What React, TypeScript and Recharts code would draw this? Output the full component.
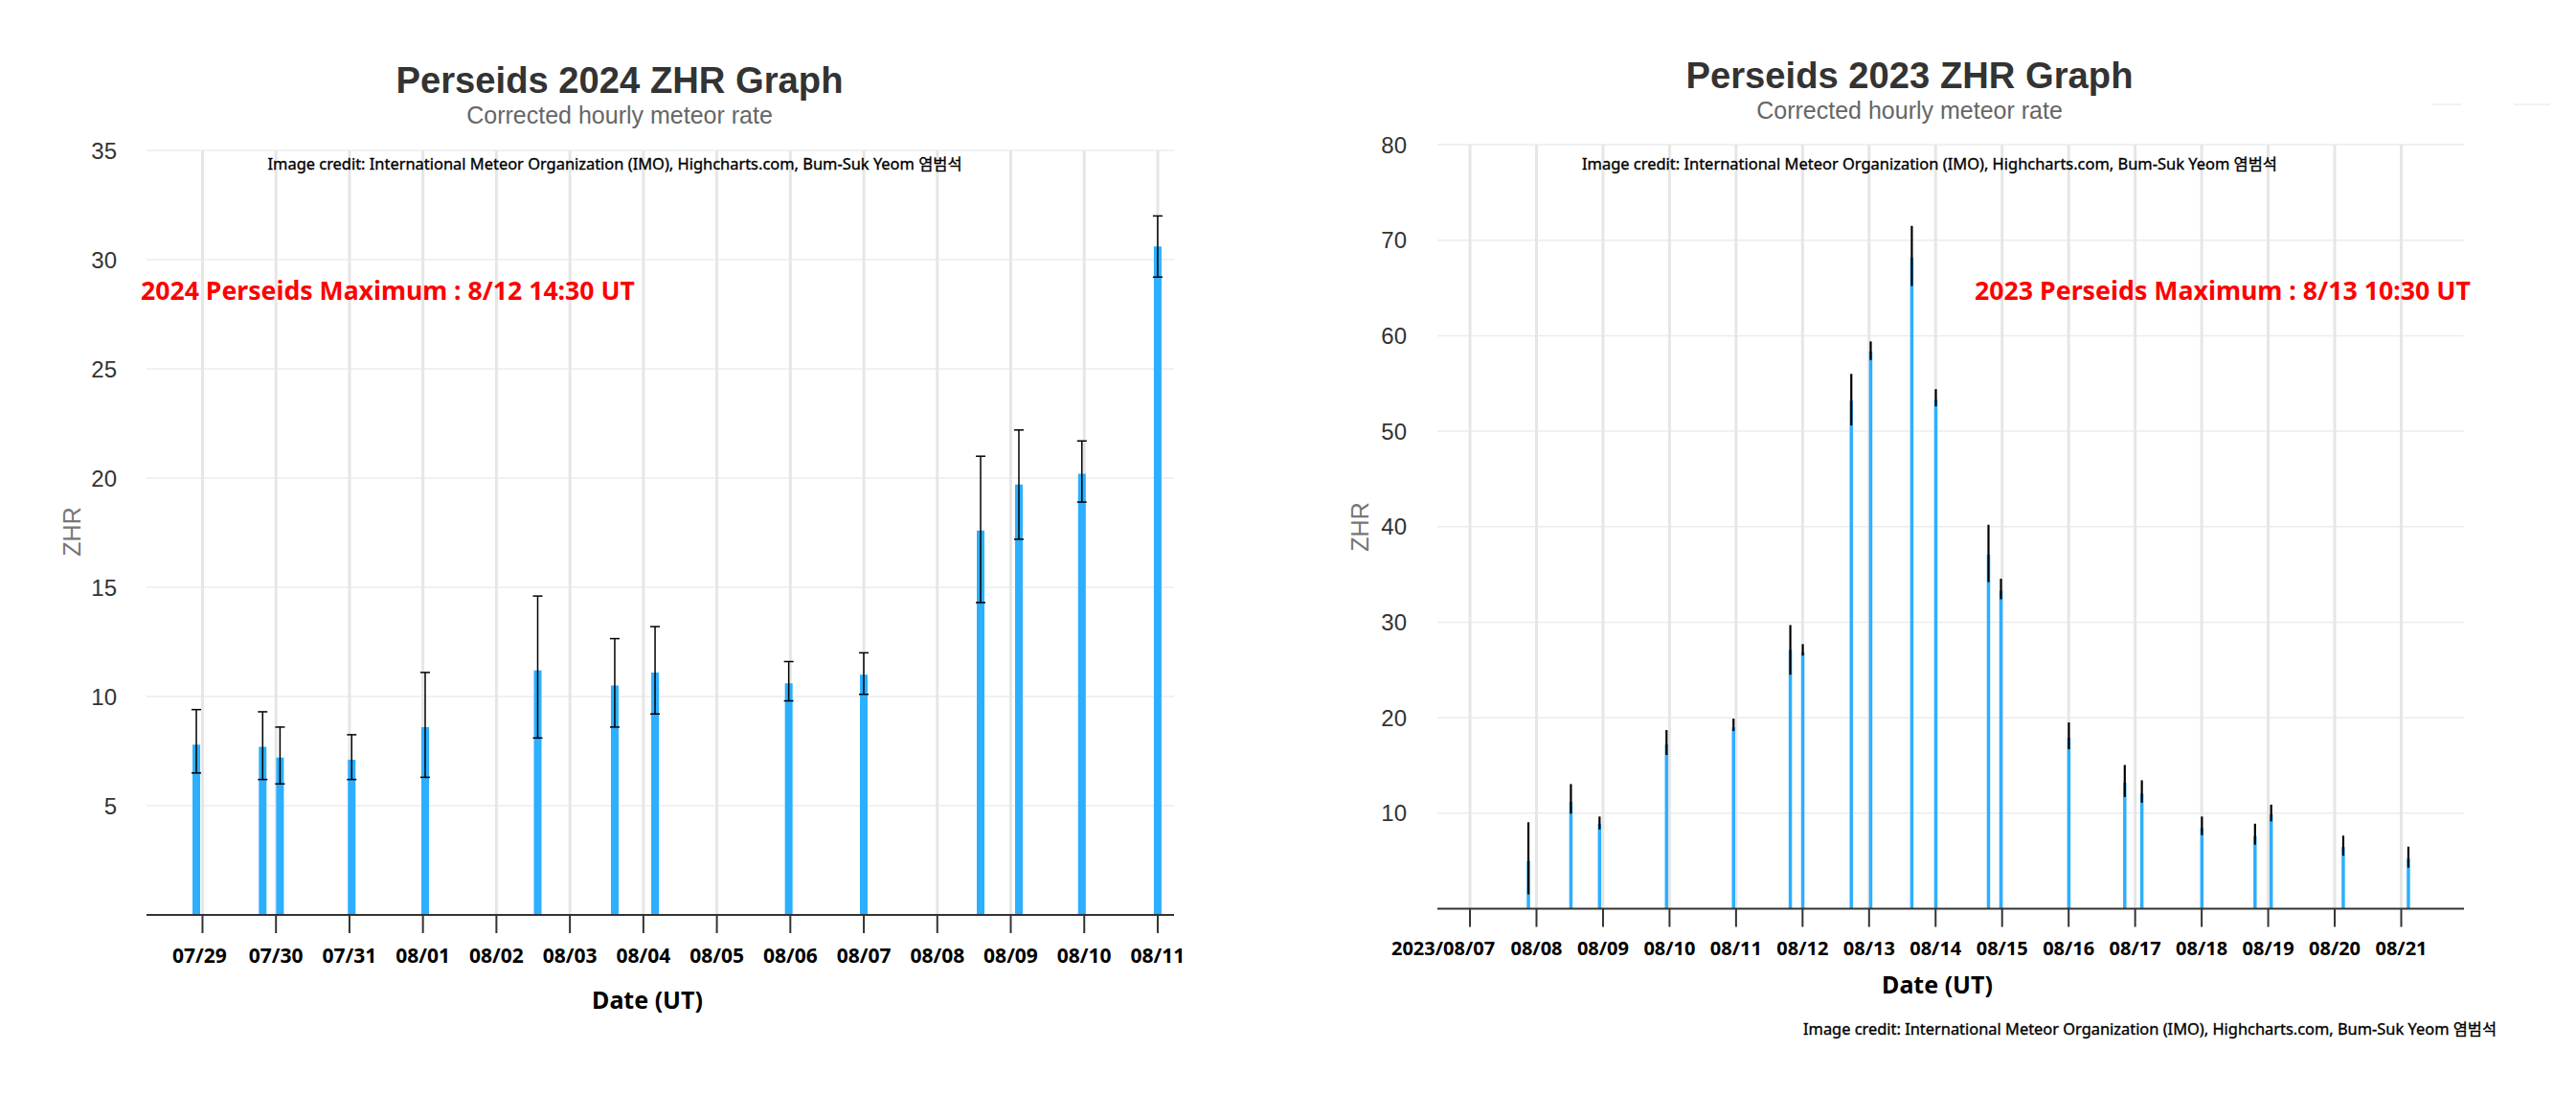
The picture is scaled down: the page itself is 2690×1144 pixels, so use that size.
import React from "react"
import { Bar, ComposedChart, XAxis, YAxis, CartesianGrid, ErrorBar } from "recharts"

const DAY = 86400000
const toMs = (s: string) => Date.parse(s + ":00Z")

// Perseids 2024 (UT), ZHR with lower / upper error bounds
const times2024 = [
  "2024-07-28T22:00", "2024-07-29T19:40", "2024-07-30T01:20", "2024-07-31T00:45",
  "2024-08-01T00:45", "2024-08-02T13:30", "2024-08-03T14:40", "2024-08-04T03:50",
  "2024-08-05T23:30", "2024-08-07T00:00", "2024-08-08T14:10", "2024-08-09T02:40",
  "2024-08-09T23:15", "2024-08-11T00:00",
]
const zhr2024 = [7.8, 7.7, 7.2, 7.1, 8.6, 11.2, 10.5, 11.1, 10.6, 11.0, 17.6, 19.7, 20.2, 30.6]
const low2024 = [6.5, 6.2, 6.0, 6.2, 6.3, 8.1, 8.6, 9.2, 9.8, 10.1, 14.3, 17.2, 18.9, 29.2]
const high2024 = [9.4, 9.3, 8.6, 8.25, 11.1, 14.6, 12.65, 13.2, 11.6, 12.0, 21.0, 22.2, 21.7, 32.0]
const days2024 = [
  "2024-07-29", "2024-07-30", "2024-07-31", "2024-08-01", "2024-08-02", "2024-08-03", "2024-08-04",
  "2024-08-05", "2024-08-06", "2024-08-07", "2024-08-08", "2024-08-09", "2024-08-10", "2024-08-11",
]
const yTicks2024 = [5, 10, 15, 20, 25, 30, 35]

// Perseids 2023 (UT)
const times2023 = [
  "2023-08-07T21:00", "2023-08-08T12:20", "2023-08-08T22:40", "2023-08-09T22:50",
  "2023-08-10T23:00", "2023-08-11T19:30", "2023-08-12T00:00", "2023-08-12T17:30",
  "2023-08-13T00:30", "2023-08-13T15:20", "2023-08-14T00:00", "2023-08-14T19:00",
  "2023-08-14T23:30", "2023-08-16T00:00", "2023-08-16T20:10", "2023-08-17T02:20",
  "2023-08-18T00:00", "2023-08-18T19:10", "2023-08-19T01:00", "2023-08-20T03:00",
  "2023-08-21T02:30",
]
const zhr2023 = [5.0, 11.2, 8.9, 17.2, 19.0, 27.1, 26.85, 53.2, 58.35, 68.2, 53.3, 37.1, 33.3, 17.9, 13.2, 12.05, 8.45, 7.6, 9.9, 6.45, 5.25]
const low2023 = [1.5, 9.95, 8.3, 16.1, 18.6, 24.5, 26.5, 50.6, 57.45, 65.2, 52.6, 34.2, 32.4, 16.7, 11.7, 11.1, 7.7, 6.7, 9.15, 5.55, 4.3]
const high2023 = [9.05, 13.05, 9.65, 18.7, 19.9, 29.7, 27.7, 56.0, 59.4, 71.5, 54.4, 40.2, 34.55, 19.5, 15.05, 13.45, 9.65, 8.9, 10.9, 7.65, 6.5]
const days2023 = [
  "2023-08-07", "2023-08-08", "2023-08-09", "2023-08-10", "2023-08-11", "2023-08-12", "2023-08-13", "2023-08-14",
  "2023-08-15", "2023-08-16", "2023-08-17", "2023-08-18", "2023-08-19", "2023-08-20", "2023-08-21",
]
const yTicks2023 = [10, 20, 30, 40, 50, 60, 70, 80]

const makeTable = (times: string[], zhr: number[], low: number[], high: number[]) =>
  times.map((s, i) => ({ x: toMs(s), zhr: zhr[i], err: [zhr[i] - low[i], high[i] - zhr[i]] }))

const table2024 = makeTable(times2024, zhr2024, low2024, high2024)
const table2023 = makeTable(times2023, zhr2023, low2023, high2023)
const ticks2024 = days2024.map((d) => toMs(d + "T00:00"))
const ticks2023 = days2023.map((d) => toMs(d + "T00:00"))
const xDom2024 = [ticks2024[0] - 0.762 * DAY, ticks2024[13] + 0.222 * DAY]
const xDom2023 = [ticks2023[0] - 0.49 * DAY, ticks2023[14] + 0.943 * DAY]

const mmdd = (v: number) => {
  const d = new Date(v)
  const m = String(d.getUTCMonth() + 1).padStart(2, "0")
  const dd = String(d.getUTCDate()).padStart(2, "0")
  return `${m}/${dd}`
}

const KO = "'Noto Sans', 'Noto Sans CJK KR', sans-serif"
const AR = "'Liberation Sans', Arial, sans-serif"
const BLUE = "#2caffe"

// grid lines only on the tick values (none on the plot edges)
const dayLines = (ticks: number[], dom: number[]) => (p: any) => {
  const o = p.offset
  return ticks.map((t) => o.left + ((t - dom[0]) / (dom[1] - dom[0])) * o.width)
}
const valueLines = (ticks: number[], max: number) => (p: any) => {
  const o = p.offset
  return ticks.map((v) => o.top + o.height - (v / max) * o.height)
}

function DateTick(props: any) {
  const { x, y, payload, index, size, firstShift, firstYear } = props
  const label = index === 0 && firstYear ? `${new Date(payload.value).getUTCFullYear()}/${mmdd(payload.value)}` : mmdd(payload.value)
  return (
    <text x={x + (index === 0 ? firstShift : 0)} y={y} dy="0.71em" textAnchor="middle"
      fontFamily={KO} fontWeight="bold" fontSize={size} fill="#000">
      {label}
    </text>
  )
}

function Chart2024() {
  return (
    <div style={{ position: "absolute", left: 0, top: 0 }}>
      <ComposedChart width={1300} height={1144} data={table2024} margin={{ top: 157, right: 74, bottom: 129, left: 0 }}>
        <CartesianGrid vertical={false} stroke="#ececec" strokeWidth={1.5}
          horizontalCoordinatesGenerator={valueLines(yTicks2024, 35)} />
        <CartesianGrid horizontal={false} stroke="#e6e6e6" strokeWidth={3}
          verticalCoordinatesGenerator={dayLines(ticks2024, xDom2024)} />
        <XAxis dataKey="x" type="number" domain={xDom2024}
          ticks={ticks2024} interval={0} allowDataOverflow height={60}
          axisLine={{ stroke: "#333", strokeWidth: 2 }} tickLine={{ stroke: "#333", strokeWidth: 2 }}
          tickSize={19} tickMargin={16}
          tick={(p: any) => <DateTick {...p} size={21} firstShift={-3} />} />
        <YAxis type="number" domain={[0, 35]} ticks={yTicks2024} width={153} axisLine={false}
          tickLine={false} tickSize={0} tickMargin={31}
          tick={{ fill: "#333", fontSize: 24, fontFamily: AR }} />
        <Bar dataKey="zhr" fill={BLUE} barSize={8} isAnimationActive={false}>
          <ErrorBar dataKey="err" width={5} stroke="#000" strokeWidth={1.5} direction="y" />
        </Bar>
      </ComposedChart>
    </div>
  )
}

function Chart2023() {
  return (
    <div style={{ position: "absolute", left: 1345, top: 0 }}>
      <ComposedChart width={1345} height={1144} data={table2023} margin={{ top: 151, right: 117, bottom: 135.5, left: 0 }}>
        <CartesianGrid vertical={false} stroke="#ececec" strokeWidth={1.5}
          horizontalCoordinatesGenerator={valueLines(yTicks2023, 80)} />
        <CartesianGrid horizontal={false} stroke="#e6e6e6" strokeWidth={3}
          verticalCoordinatesGenerator={dayLines(ticks2023, xDom2023)} />
        <XAxis dataKey="x" type="number" domain={xDom2023}
          ticks={ticks2023} interval={0} allowDataOverflow height={60}
          axisLine={{ stroke: "#333", strokeWidth: 2 }} tickLine={{ stroke: "#333", strokeWidth: 2 }}
          tickSize={19} tickMargin={15}
          tick={(p: any) => <DateTick {...p} size={20} firstShift={-28} firstYear />} />
        <YAxis type="number" domain={[0, 80]} ticks={yTicks2023} width={156} axisLine={false}
          tickLine={false} tickSize={0} tickMargin={32}
          tick={{ fill: "#333", fontSize: 24, fontFamily: AR }} />
        <Bar dataKey="zhr" fill={BLUE} barSize={3.5} isAnimationActive={false}>
          <ErrorBar dataKey="err" width={0} stroke="#000" strokeWidth={2.2} direction="y" />
        </Bar>
      </ComposedChart>
    </div>
  )
}

const CREDIT = "Image credit: International Meteor Organization (IMO), Highcharts.com, Bum-Suk Yeom 염범석"

export default function App() {
  return (
    <div style={{ position: "absolute", left: 0, top: 0, width: 2690, height: 1144, background: "#fff", overflow: "hidden" }}>
      <Chart2024 />
      <Chart2023 />
      <svg width={2690} height={1144} style={{ position: "absolute", left: 0, top: 0, pointerEvents: "none" }}>
        {/* 2024 */}
        <text x={647} y={97} textAnchor="middle" fontFamily={AR} fontWeight="bold" fontSize={38} fill="#333"
          textLength={467} lengthAdjust="spacingAndGlyphs">Perseids 2024 ZHR Graph</text>
        <text x={647} y={129} textAnchor="middle" fontFamily={AR} fontSize={25} fill="#666">Corrected hourly meteor rate</text>
        <text x={642} y={177} textAnchor="middle" fontFamily={KO} fontSize={16} fill="#000"
          stroke="#000" strokeWidth={0.35} textLength={725} lengthAdjust="spacingAndGlyphs">{CREDIT}</text>
        <text x={147} y={313} fontFamily={KO} fontWeight="bold" fontSize={27} fill="#ff0000"
          textLength={516} lengthAdjust="spacingAndGlyphs">2024 Perseids Maximum : 8/12 14:30 UT</text>
        <text x={676} y={1053} textAnchor="middle" fontFamily={KO} fontWeight="bold" fontSize={25} fill="#000">Date (UT)</text>
        <text transform="translate(84,555) rotate(-90)" textAnchor="middle" fontFamily={AR} fontSize={25} fill="#777">ZHR</text>

        {/* 2023 */}
        <text x={1994} y={92} textAnchor="middle" fontFamily={AR} fontWeight="bold" fontSize={38} fill="#333"
          textLength={467} lengthAdjust="spacingAndGlyphs">Perseids 2023 ZHR Graph</text>
        <text x={1994} y={124} textAnchor="middle" fontFamily={AR} fontSize={25} fill="#666">Corrected hourly meteor rate</text>
        <text x={2015} y={177} textAnchor="middle" fontFamily={KO} fontSize={16} fill="#000"
          stroke="#000" strokeWidth={0.35} textLength={726} lengthAdjust="spacingAndGlyphs">{CREDIT}</text>
        <text x={2062} y={313} fontFamily={KO} fontWeight="bold" fontSize={27} fill="#ff0000"
          textLength={518} lengthAdjust="spacingAndGlyphs">2023 Perseids Maximum : 8/13 10:30 UT</text>
        <text x={2023} y={1037} textAnchor="middle" fontFamily={KO} fontWeight="bold" fontSize={25} fill="#000">Date (UT)</text>
        <text transform="translate(1429,550) rotate(-90)" textAnchor="middle" fontFamily={AR} fontSize={25} fill="#777">ZHR</text>
        <text x={2245} y={1080} textAnchor="middle" fontFamily={KO} fontSize={16} fill="#000"
          stroke="#000" strokeWidth={0.35} textLength={724} lengthAdjust="spacingAndGlyphs">{CREDIT}</text>
        {/* faint marks at the top right */}
        <line x1={2540} y1={109} x2={2570} y2={109} stroke="#f2f2f2" strokeWidth={2} />
        <line x1={2625} y1={109} x2={2663} y2={109} stroke="#f2f2f2" strokeWidth={2} />
      </svg>
    </div>
  )
}
